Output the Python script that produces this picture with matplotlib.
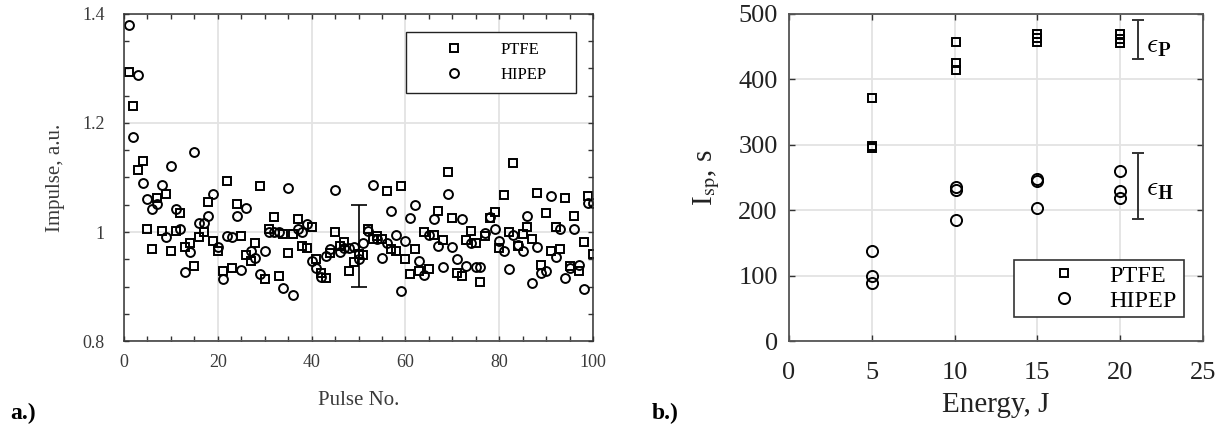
import numpy as np
import matplotlib
matplotlib.use("Agg")
import matplotlib.pyplot as plt
from matplotlib.ticker import MultipleLocator

plt.rcParams['font.family'] = ['Liberation Serif', 'DejaVu Serif']
plt.rcParams['mathtext.fontset'] = 'stix'

# ---- a.) normalised impulse per pulse ----
pulse_no = np.arange(1, 101)
ptfe_impulse = [
    1.293, 1.231, 1.114, 1.131, 1.006, 0.969, 1.062, 1.002, 1.069, 0.966,
    1.002, 1.034, 0.972, 0.980, 0.937, 0.990, 1.000, 1.055, 0.983, 0.966,
    0.928, 1.093, 0.934, 1.052, 0.993, 0.958, 0.947, 0.980, 1.085, 0.913,
    1.006, 1.027, 0.920, 0.997, 0.961, 0.996, 1.023, 0.974, 0.971, 1.009,
    0.950, 0.925, 0.916, 0.962, 1.000, 0.975, 0.982, 0.929, 0.945, 0.959,
    0.958, 1.005, 0.988, 0.992, 0.988, 1.076, 0.968, 0.966, 1.085, 0.951,
    0.923, 0.968, 0.928, 1.000, 0.933, 0.994, 1.038, 0.985, 1.110, 1.026,
    0.925, 0.919, 0.985, 1.002, 0.979, 0.908, 0.993, 1.026, 1.037, 0.971,
    1.068, 1.000, 1.127, 0.975, 0.996, 1.010, 0.988, 1.071, 0.940, 1.034,
    0.965, 1.009, 0.968, 1.062, 0.937, 1.030, 0.929, 0.982, 1.066, 0.960,
]
hipep_impulse = [
    1.380, 1.174, 1.288, 1.090, 1.060, 1.043, 1.051, 1.087, 0.990, 1.121,
    1.043, 1.006, 0.926, 0.963, 1.147, 1.017, 1.017, 1.030, 1.070, 0.972,
    0.913, 0.993, 0.990, 1.030, 0.930, 1.044, 0.966, 0.953, 0.923, 0.966,
    1.000, 1.000, 1.000, 0.897, 1.080, 0.885, 1.005, 1.000, 1.015, 0.946,
    0.934, 0.917, 0.956, 0.968, 1.077, 0.964, 0.971, 0.970, 0.973, 0.950,
    0.980, 1.002, 1.087, 0.988, 0.953, 0.979, 1.038, 0.994, 0.892, 0.983,
    1.026, 1.050, 0.946, 0.922, 0.994, 1.023, 0.975, 0.936, 1.070, 0.972,
    0.950, 1.023, 0.938, 0.980, 0.936, 0.936, 0.998, 1.028, 1.005, 0.983,
    0.966, 0.933, 0.994, 0.977, 0.966, 1.030, 0.906, 0.973, 0.925, 0.929,
    1.066, 0.954, 1.006, 0.916, 0.934, 1.006, 0.940, 0.896, 1.053, 1.053,
]
impulse_err_x = 50
impulse_err_mid = 0.975
impulse_err_half = 0.075

# ---- b.) specific impulse vs discharge energy ----
ptfe_energy = [5, 5, 5, 10.1, 10.1, 10.1, 15, 15, 15, 20, 20, 20]
ptfe_isp = [372, 298, 295, 457, 425, 415, 469, 463, 457, 469, 462, 456]
hipep_energy = [5, 5, 5, 10.1, 10.1, 10.1, 15, 15, 15, 20, 20, 20]
hipep_isp = [137, 100, 88, 235, 231, 185, 247, 244, 204, 260, 230, 219]
eps_x = 21.05
eps_p = (431, 491)
eps_h = (187, 287)

grid_c = '#e3e3e3'
spine_c = '#333333'

fig = plt.figure(figsize=(12.23, 4.29), dpi=100)

# ------------------------------------------------------------ left
ax1 = fig.add_axes([0.1014, 0.2051, 0.3835, 0.7623])
ax1.plot(pulse_no, ptfe_impulse, 's', mfc='none', mec='k', ms=6.2, mew=1.4,
         label='PTFE')
ax1.plot(pulse_no, hipep_impulse, 'o', mfc='none', mec='k', ms=6.4, mew=1.4,
         label='HIPEP')
ax1.errorbar([impulse_err_x], [impulse_err_mid], yerr=[impulse_err_half],
             fmt='none', ecolor='k', elinewidth=1.2, capsize=5.5, capthick=1.2)
ax1.set_xlim(0, 100)
ax1.set_ylim(0.8, 1.4)
ax1.xaxis.set_major_locator(MultipleLocator(20))
ax1.xaxis.set_minor_locator(MultipleLocator(5))
ax1.yaxis.set_minor_locator(MultipleLocator(0.05))
ax1.set_yticks([0.8, 1.0, 1.2, 1.4])
ax1.set_yticklabels(['0.8', '1', '1.2', '1.4'])
ax1.grid(True, which='major', color=grid_c, lw=1.3)
ax1.set_axisbelow(True)
ax1.tick_params(which='both', direction='in', top=True, right=True,
                length=3.5, width=1, colors=spine_c, labelsize=13,
                labelcolor='#3a3a3a')
ax1.tick_params(axis='x', pad=9)
ax1.tick_params(axis='y', pad=14)
for s in ax1.spines.values():
    s.set_color(spine_c)
    s.set_linewidth(1.1)
ax1.set_xlabel('Pulse No.', fontsize=15, color='#3a3a3a', labelpad=15)
ax1.set_ylabel('Impulse, a.u.', fontsize=15, color='#3a3a3a', labelpad=12)
leg1 = ax1.legend(loc='upper left', bbox_to_anchor=(0.601, 0.945, 0.363, 0.0),
                  mode='expand', fontsize=12, frameon=True, fancybox=False,
                  edgecolor='#222222', framealpha=1, borderpad=0.6,
                  handlelength=4.6, handletextpad=0.45, labelspacing=0.55,
                  borderaxespad=0)
leg1.get_frame().set_linewidth(1.0)

# ------------------------------------------------------------ right
ax2 = fig.add_axes([0.6451, 0.2051, 0.3385, 0.7623])
ax2.plot(ptfe_energy, ptfe_isp, 's', mfc='none', mec='k', ms=6.0, mew=1.4,
         label='PTFE')
ax2.plot(hipep_energy, hipep_isp, 'o', mfc='none', mec='k', ms=8.0, mew=1.4,
         label='HIPEP')
for lo, hi in (eps_p, eps_h):
    ax2.errorbar([eps_x], [(lo + hi) / 2], yerr=[(hi - lo) / 2], fmt='none',
                 ecolor='#333333', elinewidth=1.4, capsize=4.5, capthick=1.4)
# lunate epsilon from the Computer Modern math set
ax2.text(21.55, 450, r'$\epsilon_{\mathbf{P}}$', fontsize=20, va='center',
         ha='left', math_fontfamily='cm')
ax2.text(21.55, 231, r'$\epsilon_{\mathbf{H}}$', fontsize=20, va='center',
         ha='left', math_fontfamily='cm')
ax2.set_xlim(0, 25)
ax2.set_ylim(0, 500)
ax2.xaxis.set_major_locator(MultipleLocator(5))
ax2.yaxis.set_major_locator(MultipleLocator(100))
ax2.grid(True, color=grid_c, lw=1.3)
ax2.set_axisbelow(True)
ax2.tick_params(direction='in', top=True, right=True, length=4, width=1,
                colors=spine_c, labelsize=19, labelcolor='#222222', pad=8)
ax2.tick_params(axis='x', pad=15)
for s in ax2.spines.values():
    s.set_color('#555555')
    s.set_linewidth(1.3)
ax2.set_xlabel('Energy, J', fontsize=21, color='#222222', labelpad=6)
ax2.set_ylabel(r'I$_{\mathrm{sp}}$, s', fontsize=21, color='#222222',
               labelpad=12)
leg2 = ax2.legend(loc='upper left', bbox_to_anchor=(0.543, 0.248, 0.411, 0.0),
                  mode='expand', fontsize=17.5, frameon=True, fancybox=False,
                  edgecolor='#333333', framealpha=1, borderpad=0.2,
                  handlelength=3.7, handletextpad=0.05, labelspacing=0.12,
                  borderaxespad=0)
leg2.get_frame().set_linewidth(1.2)

# panel tags
fig.text(0.008, 0.037, 'a.)', fontsize=17, fontweight='bold', ha='left',
         va='center')
fig.text(0.533, 0.037, 'b.)', fontsize=17, fontweight='bold', ha='left',
         va='center')

fig.savefig('out.png', dpi=100)
